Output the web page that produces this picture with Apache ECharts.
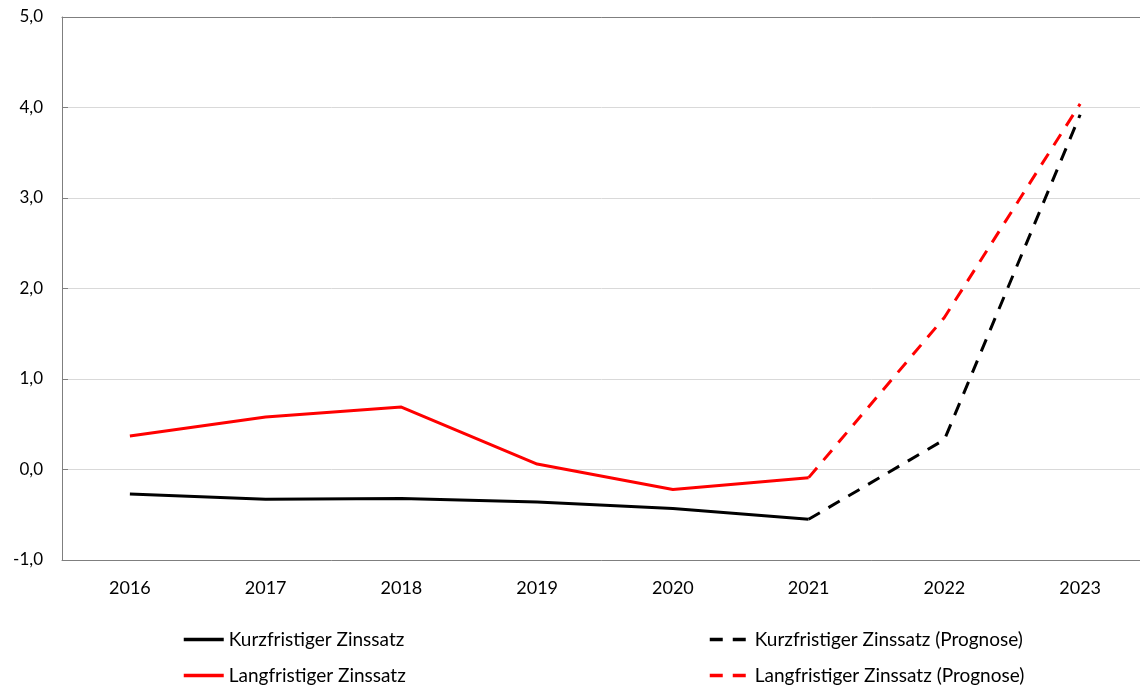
<!DOCTYPE html>
<html>
<head>
<meta charset="utf-8">
<script src="https://cdn.jsdelivr.net/npm/echarts@6/dist/echarts.min.js"></script>
<style>html,body{margin:0;padding:0;background:#fff;overflow:hidden}#c{width:1140px;height:688px}</style>
</head>
<body>
<div id="c"></div>
<script>
const years = ['2016','2017','2018','2019','2020','2021','2022','2023'];
const kurz = [-0.27, -0.33, -0.32, -0.36, -0.43, -0.55, null, null];
const kurzPrognose = [null, null, null, null, null, -0.55, 0.33, 3.92];
const lang = [0.37, 0.58, 0.69, 0.06, -0.22, -0.09, null, null];
const langPrognose = [null, null, null, null, null, -0.09, 1.68, 4.04];
const names = ['Kurzfristiger Zinssatz','Langfristiger Zinssatz','Kurzfristiger Zinssatz (Prognose)','Langfristiger Zinssatz (Prognose)'];

const font = 'Lato';
const chart = echarts.init(document.getElementById('c'));
function line(name, data, color, dashed) {
  return {
    name, type: 'line', data, symbol: 'none', showSymbol: false, connectNulls: false,
    lineStyle: {color, width: 3, type: dashed ? [13, 10] : 'solid', cap: 'butt'},
    itemStyle: {color}, animation: false, z: dashed ? 3 : 4
  };
}
function leg(name, left, top) {
  return {data: [name], left, top, orient: 'horizontal', itemWidth: 40, itemHeight: 20, padding: 0,
    itemStyle: {opacity: 0}, lineStyle: {width: 3.5},
    textStyle: {fontFamily: font, fontSize: 19, color: '#000'}};
}
chart.setOption({
  animation: false,
  textStyle: {fontFamily: font},
  grid: {left: 62, width: 1086, top: 17, bottom: 128, containLabel: false, outerBoundsMode: 'none'},
  legend: [
    leg(names[0], 182, 630),
    leg(names[1], 182, 666),
    leg(names[2], 708, 630),
    leg(names[3], 708, 666)
  ],
  xAxis: [{
    type: 'category', data: years, boundaryGap: true,
    axisLine: {onZero: false, lineStyle: {color: '#7f7f7f', width: 1}},
    axisTick: {inside: true, length: 6, lineStyle: {color: '#7f7f7f'}},
    axisLabel: {fontFamily: font, fontSize: 18, color: '#000', margin: 19}
  }, {
    type: 'category', data: years, position: 'top',
    axisLine: {show: true, onZero: false, lineStyle: {color: '#7f7f7f', width: 1}},
    axisTick: {show: false}, axisLabel: {show: false}
  }],
  yAxis: {
    type: 'value', min: -1, max: 5, interval: 1,
    axisLine: {show: true, lineStyle: {color: '#7f7f7f', width: 1}},
    axisTick: {show: true, inside: true, length: 6, lineStyle: {color: '#7f7f7f'}},
    splitLine: {lineStyle: {color: '#d9d9d9', width: 1}},
    axisLabel: {fontFamily: font, fontSize: 17, color: '#000', margin: 19,
      formatter: v => v.toFixed(1).replace('.', ',')}
  },
  series: [
    line(names[0], kurz, '#000000', false),
    line(names[1], lang, '#ff0000', false),
    line(names[2], kurzPrognose, '#000000', true),
    line(names[3], langPrognose, '#ff0000', true)
  ]
});
</script>
</body>
</html>
